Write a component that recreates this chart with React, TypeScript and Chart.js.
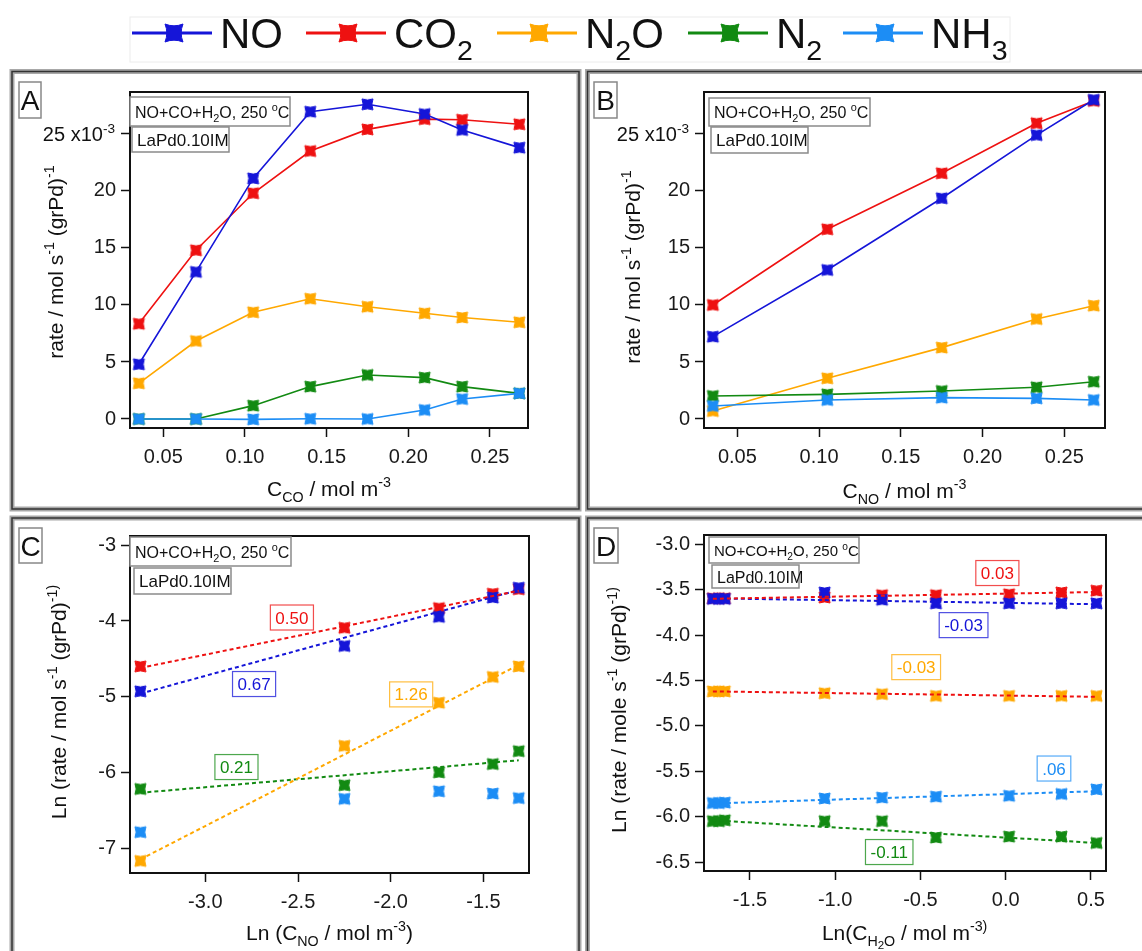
import React, { useEffect, useRef } from 'react';
import { Chart, registerables } from 'chart.js';
Chart.register(...registerables);

const FONT = '"Liberation Sans", Arial, Helvetica, sans-serif';
const W = 1142;
const H = 951;
const YW = 74;
const XH = 60;

const COL_NO = '#1515d8';
const COL_CO2 = '#ee1111';
const COL_N2O = '#ffa800';
const COL_N2 = '#128a12';
const COL_NH3 = '#1c8df5';

// ---------- Panel A data (rate vs C_CO) ----------
const xA = [0.035, 0.07, 0.105, 0.14, 0.175, 0.21, 0.233, 0.268];
const A_NO = [4.8, 12.9, 21.1, 26.95, 27.6, 26.75, 25.35, 23.8];
const A_CO2 = [8.35, 14.8, 19.8, 23.5, 25.4, 26.3, 26.25, 25.85];
const A_N2O = [3.13, 6.84, 9.36, 10.55, 9.85, 9.27, 8.9, 8.48];
const A_N2 = [0, 0, 1.17, 2.84, 3.86, 3.63, 2.84, 2.25];
const A_NH3 = [0, 0, -0.03, 0.02, 0.0, 0.79, 1.75, 2.25];

// ---------- Panel B data (rate vs C_NO) ----------
const xB = [0.035, 0.105, 0.175, 0.233, 0.268];
const B_NO = [7.22, 13.07, 19.36, 24.9, 28.0];
const B_CO2 = [10.0, 16.64, 21.55, 25.94, 27.9];
const B_N2O = [0.7, 3.57, 6.26, 8.77, 9.94];
const B_N2 = [2.02, 2.16, 2.46, 2.78, 3.27];
const B_NH3 = [1.14, 1.67, 1.87, 1.81, 1.67];

// ---------- Panel C data (ln rate vs ln C_NO) ----------
const xC = [-3.35, -2.25, -1.74, -1.45, -1.31];
const C_NO = [-4.93, -4.33, -3.945, -3.69, -3.56];
const C_CO2 = [-4.6, -4.09, -3.83, -3.64, -3.58];
const C_N2O = [-7.17, -5.65, -5.08, -4.74, -4.6];
const C_N2 = [-6.22, -6.17, -6.0, -5.89, -5.72];
const C_NH3 = [-6.79, -6.35, -6.25, -6.28, -6.34];
const xFitC = [-3.35, -1.31];
const C_FIT_NO = [-4.96, -3.59];
const C_FIT_CO2 = [-4.62, -3.6];
const C_FIT_N2O = [-7.15, -4.58];
const C_FIT_N2 = [-6.27, -5.84];
const C_SLOPES = ['0.50', '0.67', '1.26', '0.21'];
const C_SLOPE_POS = [[-2.533, -3.954], [-2.737, -4.833], [-1.89, -4.97], [-2.832, -5.93]];

// ---------- Panel D data (ln rate vs ln C_H2O) ----------
const xD = [-1.717, -1.682, -1.647, -1.062, -0.725, -0.409, 0.02, 0.327, 0.532];
const D_NO = [-3.6, -3.6, -3.6, -3.53, -3.61, -3.65, -3.65, -3.65, -3.65];
const D_CO2 = [-3.595, -3.595, -3.595, -3.585, -3.56, -3.56, -3.55, -3.53, -3.51];
const D_N2O = [-4.62, -4.62, -4.62, -4.64, -4.65, -4.67, -4.67, -4.67, -4.67];
const D_N2 = [-6.05, -6.05, -6.04, -6.05, -6.05, -6.23, -6.22, -6.22, -6.29];
const D_NH3 = [-5.85, -5.85, -5.845, -5.8, -5.79, -5.78, -5.77, -5.75, -5.7];
const xFitD = [-1.717, 0.532];
const D_FIT_CO2 = [-3.6, -3.525];
const D_FIT_NO = [-3.595, -3.66];
const D_FIT_N2O = [-4.62, -4.68];
const D_FIT_NH3 = [-5.855, -5.72];
const D_FIT_N2 = [-6.04, -6.29];
const D_SLOPES = ['0.03', '-0.03', '-0.03', '.06', '-0.11'];
const D_SLOPE_POS = [[-0.049, -3.316], [-0.247, -3.89], [-0.525, -4.353], [0.283, -5.47], [-0.683, -6.39]];

// ---------- tick values ----------
const TICKS_X_AB = [0.05, 0.1, 0.15, 0.2, 0.25];
const TICKS_Y_AB = [0, 5, 10, 15, 20, 25];
const TICKS_X_C = [-3, -2.5, -2, -1.5];
const TICKS_Y_C = [-3, -4, -5, -6, -7];
const TICKS_X_D = [-1.5, -1, -0.5, 0, 0.5];
const TICKS_Y_D = [-3, -3.5, -4, -4.5, -5, -5.5, -6, -6.5];

type Seg = { t: string; k?: 'sub' | 'sup' | 'subsub' };

function drawRich(ctx: CanvasRenderingContext2D, segs: Seg[], x: number, y: number, size: number, align: 'left' | 'center' | 'right', color: string) {
  const parts = segs.map((s) => {
    const f = s.k === 'subsub' ? size * 0.55 : s.k ? size * 0.68 : size;
    const dy = s.k === 'sub' ? size * 0.28 : s.k === 'subsub' ? size * 0.42 : s.k === 'sup' ? -size * 0.42 : 0;
    ctx.font = `${f}px ${FONT}`;
    return { t: s.t, f, dy, w: ctx.measureText(s.t).width };
  });
  const total = parts.reduce((a, p) => a + p.w, 0);
  let cx = align === 'left' ? x : align === 'center' ? x - total / 2 : x - total;
  ctx.fillStyle = color;
  ctx.textBaseline = 'alphabetic';
  ctx.textAlign = 'left';
  for (const p of parts) {
    ctx.font = `${p.f}px ${FONT}`;
    ctx.fillText(p.t, cx, y + p.dy);
    cx += p.w;
  }
  return total;
}

function makeMarker(color: string, r: number): HTMLCanvasElement {
  const s = Math.ceil(2 * r + 4);
  const c = document.createElement('canvas');
  c.width = s;
  c.height = s;
  const g = c.getContext('2d')!;
  const m = s / 2;
  const k = r * 0.7;
  g.beginPath();
  g.moveTo(m - r, m - r);
  g.quadraticCurveTo(m, m - k * 0.85, m + r, m - r);
  g.quadraticCurveTo(m + k * 0.85, m, m + r, m + r);
  g.quadraticCurveTo(m, m + k * 0.85, m - r, m + r);
  g.quadraticCurveTo(m - k * 0.85, m, m - r, m - r);
  g.closePath();
  g.fillStyle = color;
  g.fill();
  g.lineWidth = 1;
  g.strokeStyle = color;
  g.stroke();
  return c;
}

const pts = (xs: number[], ys: number[]) => xs.map((x, i) => ({ x, y: ys[i] }));

interface Panel {
  letter: string;
  letterBox: number[];
  frame: number[];
  area: { l: number; r: number; t: number; b: number };
  xr: number[];
  yr: number[];
  xTicks: number[];
  yTicks: number[];
  xFmt: (v: number) => string;
  yFmt: (v: number) => string;
  datasets: any[];
  xTitle: Seg[];
  yTitle: Seg[];
  xTitlePos: number[];
  yTitlePos: number[];
  boxes: number[][];
  boxFont: number;
  slopes?: { text: string; x: number; y: number; color: string }[];
  sci?: boolean;
  legend?: boolean;
}

function buildPanels(): Panel[] {
  const mk = (c: string) => makeMarker(c, 5.5);
  const mNO = mk(COL_NO), mCO2 = mk(COL_CO2), mN2O = mk(COL_N2O), mN2 = mk(COL_N2), mNH3 = mk(COL_NH3);
  const line = (data: any, color: string, marker: any, order: number) => ({
    data, borderColor: color, backgroundColor: color, borderWidth: 1.6, showLine: true, fill: false,
    pointStyle: marker, pointRadius: 5, order,
  });
  const scat = (data: any, color: string, marker: any, order: number) => ({
    data, borderColor: color, backgroundColor: color, showLine: false, pointStyle: marker, pointRadius: 5, order,
  });
  const fit = (data: any, color: string) => ({
    data, borderColor: color, borderWidth: 2, borderDash: [4, 3], showLine: true, fill: false, pointRadius: 0, order: 0,
  });

  const A: Panel = {
    letter: 'A', letterBox: [19, 82, 22, 36], frame: [12, 71.5, 579, 509],
    area: { l: 130, r: 528, t: 92, b: 428 }, xr: [0.0296, 0.2733], yr: [-0.79, 28.68],
    xTicks: TICKS_X_AB, yTicks: TICKS_Y_AB, xFmt: (v) => v.toFixed(2), yFmt: (v) => (v === 25 ? '' : String(v)),
    datasets: [
      line(pts(xA, A_NO), COL_NO, mNO, 1),
      line(pts(xA, A_CO2), COL_CO2, mCO2, 2),
      line(pts(xA, A_NH3), COL_NH3, mNH3, 3),
      line(pts(xA, A_N2), COL_N2, mN2, 4),
      line(pts(xA, A_N2O), COL_N2O, mN2O, 5),
    ],
    xTitle: [{ t: 'C' }, { t: 'CO', k: 'sub' }, { t: ' / mol m' }, { t: '-3', k: 'sup' }],
    yTitle: [{ t: 'rate / mol s' }, { t: '-1', k: 'sup' }, { t: ' (grPd)' }, { t: '-1', k: 'sup' }],
    xTitlePos: [329, 496], yTitlePos: [63, 262], boxes: [[0, 5, 160, 29], [2, 35, 97, 25]], boxFont: 16, sci: true, legend: true,
  };
  const B: Panel = {
    letter: 'B', letterBox: [594, 82, 23, 36], frame: [587.5, 71.5, 1146, 509],
    area: { l: 704, r: 1105, t: 92, b: 428 }, xr: [0.0296, 0.2749], yr: [-0.79, 28.68],
    xTicks: TICKS_X_AB, yTicks: TICKS_Y_AB, xFmt: (v) => v.toFixed(2), yFmt: (v) => (v === 25 ? '' : String(v)),
    datasets: [
      line(pts(xB, B_NO), COL_NO, mNO, 1),
      line(pts(xB, B_CO2), COL_CO2, mCO2, 2),
      line(pts(xB, B_NH3), COL_NH3, mNH3, 3),
      line(pts(xB, B_N2), COL_N2, mN2, 4),
      line(pts(xB, B_N2O), COL_N2O, mN2O, 5),
    ],
    xTitle: [{ t: 'C' }, { t: 'NO', k: 'sub' }, { t: ' / mol m' }, { t: '-3', k: 'sup' }],
    yTitle: [{ t: 'rate / mol s' }, { t: '-1', k: 'sup' }, { t: ' (grPd)' }, { t: '-1', k: 'sup' }],
    xTitlePos: [904.5, 498], yTitlePos: [640, 267], boxes: [[5, 6, 161, 28], [7, 35, 97, 26]], boxFont: 16, sci: true,
  };
  const C: Panel = {
    letter: 'C', letterBox: [19, 528, 23, 35], frame: [12, 518, 579, 960],
    area: { l: 130, r: 529, t: 536, b: 873 }, xr: [-3.406, -1.2546], yr: [-7.33, -2.877],
    xTicks: TICKS_X_C, yTicks: TICKS_Y_C, xFmt: (v) => v.toFixed(1), yFmt: (v) => String(v),
    datasets: [
      fit(pts(xFitC, C_FIT_CO2), COL_CO2),
      fit(pts(xFitC, C_FIT_NO), COL_NO),
      fit(pts(xFitC, C_FIT_N2O), COL_N2O),
      fit(pts(xFitC, C_FIT_N2), COL_N2),
      scat(pts(xC, C_NO), COL_NO, mNO, 1),
      scat(pts(xC, C_CO2), COL_CO2, mCO2, 2),
      scat(pts(xC, C_NH3), COL_NH3, mNH3, 3),
      scat(pts(xC, C_N2), COL_N2, mN2, 4),
      scat(pts(xC, C_N2O), COL_N2O, mN2O, 5),
    ],
    xTitle: [{ t: 'Ln (C' }, { t: 'NO', k: 'sub' }, { t: ' / mol m' }, { t: '-3', k: 'sup' }, { t: ')' }],
    yTitle: [{ t: 'Ln (rate / mol s' }, { t: '-1', k: 'sup' }, { t: ' (grPd)' }, { t: '-1)', k: 'sup' }],
    xTitlePos: [329.5, 940], yTitlePos: [66, 702], boxes: [[0, 1, 161, 29], [4, 32, 97, 26]], boxFont: 16,
    slopes: C_SLOPES.map((t, i) => ({ text: t, x: C_SLOPE_POS[i][0], y: C_SLOPE_POS[i][1], color: [COL_CO2, COL_NO, COL_N2O, COL_N2][i] })),
  };
  const D: Panel = {
    letter: 'D', letterBox: [594, 528, 24, 35], frame: [587.5, 518, 1146, 960],
    area: { l: 704, r: 1106, t: 535, b: 871 }, xr: [-1.769, 0.588], yr: [-6.599, -2.897],
    xTicks: TICKS_X_D, yTicks: TICKS_Y_D, xFmt: (v) => v.toFixed(1), yFmt: (v) => v.toFixed(1),
    datasets: [
      fit(pts(xFitD, D_FIT_CO2), COL_CO2),
      fit(pts(xFitD, D_FIT_NO), COL_NO),
      fit(pts(xFitD, D_FIT_N2O), COL_CO2),
      fit(pts(xFitD, D_FIT_NH3), COL_NH3),
      fit(pts(xFitD, D_FIT_N2), COL_N2),
      scat(pts(xD, D_NO), COL_NO, mNO, 1),
      scat(pts(xD, D_CO2), COL_CO2, mCO2, 2),
      scat(pts(xD, D_NH3), COL_NH3, mNH3, 3),
      scat(pts(xD, D_N2), COL_N2, mN2, 4),
      scat(pts(xD, D_N2O), COL_N2O, mN2O, 5),
    ],
    xTitle: [{ t: 'Ln(C' }, { t: 'H', k: 'sub' }, { t: '2', k: 'subsub' }, { t: 'O', k: 'sub' }, { t: ' / mol m' }, { t: '-3)', k: 'sup' }],
    yTitle: [{ t: 'Ln (rate / mole s' }, { t: '-1', k: 'sup' }, { t: ' (grPd)' }, { t: '-1)', k: 'sup' }],
    xTitlePos: [904.6, 940], yTitlePos: [626, 710], boxes: [[5, 2, 150, 26], [8, 30, 87, 23]], boxFont: 15,
    slopes: D_SLOPES.map((t, i) => ({ text: t, x: D_SLOPE_POS[i][0], y: D_SLOPE_POS[i][1], color: [COL_CO2, COL_NO, COL_N2O, COL_NH3, COL_N2][i] })),
  };
  return [A, B, C, D];
}

const TITLE1: Seg[] = [{ t: 'NO+CO+H' }, { t: '2', k: 'sub' }, { t: 'O, 250 ' }, { t: 'o', k: 'sup' }, { t: 'C' }];
const TITLE2: Seg[] = [{ t: 'LaPd0.10IM' }];

const LEGEND_NAMES: Seg[][] = [
  [{ t: 'NO' }],
  [{ t: 'CO' }, { t: '2', k: 'sub' }],
  [{ t: 'N' }, { t: '2', k: 'sub' }, { t: 'O' }],
  [{ t: 'N' }, { t: '2', k: 'sub' }],
  [{ t: 'NH' }, { t: '3', k: 'sub' }],
];
const LEGEND_COLORS = [COL_NO, COL_CO2, COL_N2O, COL_N2, COL_NH3];
const LEGEND_X = [132, 306, 497, 688, 843];

function panelPlugin(p: Panel) {
  return {
    id: 'panel' + p.letter,
    afterDraw(chart: any) {
      const ctx: CanvasRenderingContext2D = chart.ctx;
      const a = chart.chartArea;
      const xs = chart.scales.x;
      const ys = chart.scales.y;
      ctx.save();
      // outer panel frame
      const [x1, y1, x2, y2] = p.frame;
      ctx.strokeStyle = '#a8a8a8';
      ctx.lineWidth = 5;
      ctx.strokeRect(x1, y1, x2 - x1, y2 - y1);
      ctx.strokeStyle = '#333';
      ctx.lineWidth = 1.5;
      ctx.strokeRect(x1, y1, x2 - x1, y2 - y1);
      // plot box
      ctx.strokeStyle = '#111';
      ctx.lineWidth = 2;
      ctx.strokeRect(a.left, a.top, a.right - a.left, a.bottom - a.top);
      // letter box
      const [lx, ly, lw, lh] = p.letterBox;
      ctx.fillStyle = '#fff';
      ctx.fillRect(lx, ly, lw, lh);
      ctx.strokeStyle = '#888';
      ctx.lineWidth = 1.5;
      ctx.strokeRect(lx, ly, lw, lh);
      drawRich(ctx, [{ t: p.letter }], lx + lw / 2, ly + lh / 2 + 10, 28, 'center', '#111');
      // annotation boxes
      [TITLE1, TITLE2].forEach((segs, i) => {
        const [bx, by, bw, bh] = p.boxes[i];
        const X = a.left + bx;
        const Y = a.top + by;
        ctx.fillStyle = '#fff';
        ctx.fillRect(X, Y, bw, bh);
        ctx.strokeStyle = '#8a8a8a';
        ctx.lineWidth = 1.5;
        ctx.strokeRect(X, Y, bw, bh);
        drawRich(ctx, segs, X + 5, Y + bh / 2 + 6, i === 0 ? p.boxFont : p.boxFont + 1, 'left', '#111');
      });
      // axis titles
      drawRich(ctx, p.xTitle, p.xTitlePos[0], p.xTitlePos[1], 21, 'center', '#111');
      ctx.save();
      ctx.translate(p.yTitlePos[0], p.yTitlePos[1]);
      ctx.rotate(-Math.PI / 2);
      drawRich(ctx, p.yTitle, 0, 0, 21, 'center', '#111');
      ctx.restore();
      // scientific label
      if (p.sci) {
        drawRich(ctx, [{ t: '25 x10' }, { t: '-3', k: 'sup' }], a.left - 15, ys.getPixelForValue(25) + 7.5, 20, 'right', '#111');
      }
      // slope labels
      if (p.slopes) {
        for (const s of p.slopes) {
          const px = xs.getPixelForValue(s.x);
          const py = ys.getPixelForValue(s.y);
          ctx.font = `17px ${FONT}`;
          const tw = ctx.measureText(s.text).width;
          const bw = tw + 10;
          const bh = 25;
          ctx.fillStyle = '#fff';
          ctx.fillRect(px - bw / 2, py - bh / 2, bw, bh);
          ctx.globalAlpha = 0.75;
          ctx.strokeStyle = s.color;
          ctx.lineWidth = 1.2;
          ctx.strokeRect(px - bw / 2, py - bh / 2, bw, bh);
          ctx.globalAlpha = 1;
          drawRich(ctx, [{ t: s.text }], px, py + 6, 17, 'center', s.color);
        }
      }
      // legend
      if (p.legend) {
        ctx.strokeStyle = '#ececec';
        ctx.lineWidth = 1;
        ctx.strokeRect(130, 17, 880, 45);
        LEGEND_NAMES.forEach((segs, i) => {
          const x0 = LEGEND_X[i];
          const col = LEGEND_COLORS[i];
          ctx.strokeStyle = col;
          ctx.lineWidth = 3;
          ctx.beginPath();
          ctx.moveTo(x0, 33);
          ctx.lineTo(x0 + 80, 33);
          ctx.stroke();
          const m = makeMarker(col, 9);
          ctx.drawImage(m, x0 + 42 - m.width / 2, 33 - m.height / 2);
          drawRich(ctx, segs, x0 + 88, 48, 42, 'left', '#111');
        });
      }
      ctx.restore();
    },
  };
}

function buildConfig(p: Panel): any {
  const tickFont = { family: FONT, size: 20 };
  return {
    type: 'scatter',
    data: { datasets: p.datasets },
    options: {
      animation: false,
      responsive: false,
      devicePixelRatio: 1,
      events: [],
      layout: { padding: { left: p.area.l - YW, right: W - p.area.r, top: p.area.t, bottom: H - p.area.b - XH } },
      plugins: { legend: { display: false }, tooltip: { enabled: false } },
      scales: {
        x: {
          type: 'linear', position: 'bottom', min: p.xr[0], max: p.xr[1],
          afterBuildTicks: (s: any) => { s.ticks = p.xTicks.map((v) => ({ value: v })); },
          afterFit: (s: any) => { s.height = XH; },
          ticks: { font: tickFont, color: '#1a1a1a', padding: 8, maxRotation: 0, autoSkip: false, callback: (v: any) => p.xFmt(Number(v)) },
          grid: { drawOnChartArea: false, drawTicks: true, tickLength: 9, tickWidth: 1.5, tickColor: '#111' },
          border: { display: true, color: '#111', width: 2 },
        },
        y: {
          type: 'linear', position: 'left', min: p.yr[0], max: p.yr[1],
          afterBuildTicks: (s: any) => { s.ticks = p.yTicks.map((v) => ({ value: v })); },
          afterFit: (s: any) => { s.width = YW; },
          ticks: { font: tickFont, color: '#1a1a1a', padding: 5, autoSkip: false, callback: (v: any) => p.yFmt(Number(v)) },
          grid: { drawOnChartArea: false, drawTicks: true, tickLength: 9, tickWidth: 1.5, tickColor: '#111' },
          border: { display: true, color: '#111', width: 2 },
        },
      },
    },
    plugins: [panelPlugin(p)],
  };
}

export default function App() {
  const r0 = useRef<HTMLCanvasElement>(null);
  const r1 = useRef<HTMLCanvasElement>(null);
  const r2 = useRef<HTMLCanvasElement>(null);
  const r3 = useRef<HTMLCanvasElement>(null);
  useEffect(() => {
    const refs = [r0, r1, r2, r3];
    const panels = buildPanels();
    const charts = panels.map((p, i) => new Chart(refs[i].current as HTMLCanvasElement, buildConfig(p)));
    return () => charts.forEach((c) => c.destroy());
  }, []);
  const cs: React.CSSProperties = { position: 'absolute', left: 0, top: 0, width: W, height: H };
  return (
    <div style={{ position: 'absolute', left: 0, top: 0, width: W, height: H, background: '#fff', overflow: 'hidden' }}>
      <canvas ref={r0} width={W} height={H} style={cs} />
      <canvas ref={r1} width={W} height={H} style={cs} />
      <canvas ref={r2} width={W} height={H} style={cs} />
      <canvas ref={r3} width={W} height={H} style={cs} />
    </div>
  );
}
